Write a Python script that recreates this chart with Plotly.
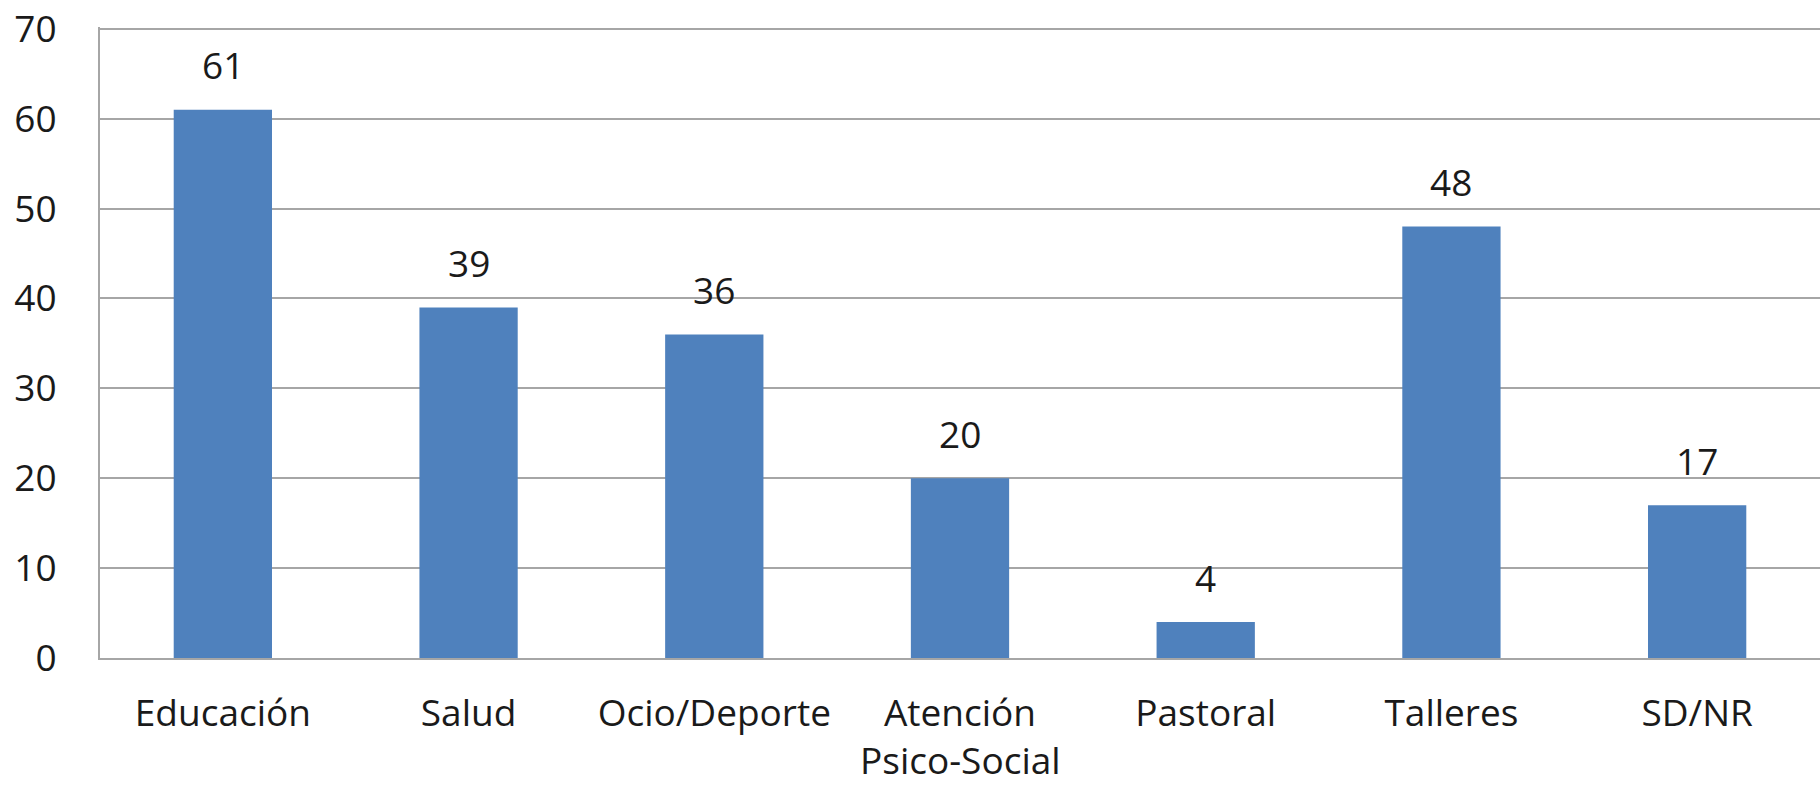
import plotly.graph_objects as go

categories = ["Educación", "Salud", "Ocio/Deporte", "Atención Psico-Social",
              "Pastoral", "Talleres", "SD/NR"]
tick_labels = ["Educación", "Salud", "Ocio/Deporte", "Atención",
               "Pastoral", "Talleres", "SD/NR"]
values = [61, 39, 36, 20, 4, 48, 17]
y_ticks = [0, 10, 20, 30, 40, 50, 60, 70]

BAR_COLOR = "#4F81BD"
GRID = "#a6a6a6"
FONT = dict(family="Open Sans", size=37, color="#1a1a1a")

fig = go.Figure()
fig.add_trace(
    go.Bar(
        x=categories,
        y=values,
        marker=dict(color=BAR_COLOR, line=dict(width=0)),
        showlegend=False,
    )
)

# value labels floating above each bar
for c, v in zip(categories, values):
    fig.add_annotation(
        x=c, y=v, text=str(v), showarrow=False,
        yanchor="middle", yshift=45, font=FONT,
    )

# second line of the wrapped category label (Excel-like wider line spacing)
fig.add_annotation(
    x=categories[3], y=0, yref="y", text="Psico-Social", showarrow=False,
    yanchor="middle", yshift=-101, font=FONT,
)

fig.update_layout(
    width=1820,
    height=785,
    margin=dict(l=100, r=0, t=27, b=127),
    plot_bgcolor="white",
    paper_bgcolor="white",
    bargap=0.6,
    font=FONT,
)
fig.update_yaxes(
    range=[0, 70.2],
    tickvals=y_ticks,
    showgrid=True,
    gridcolor=GRID,
    gridwidth=2,
    showline=True,
    linecolor=GRID,
    linewidth=2,
    ticks="outside",
    ticklen=34,
    tickcolor="rgba(0,0,0,0)",
    ticklabeloverflow="allow",
    zeroline=False,
    automargin=False,
)
fig.update_xaxes(
    tickvals=categories,
    ticktext=tick_labels,
    showline=True,
    linecolor=GRID,
    linewidth=2,
    ticks="outside",
    ticklen=22,
    tickcolor="rgba(0,0,0,0)",
    ticklabeloverflow="allow",
    tickangle=0,
    automargin=False,
)

# drop the default 8px page margin so the figure fills the window exactly
fig.write_html(
    "out.html",
    config={"displayModeBar": False},
    post_script="document.body.style.margin='0';",
)
